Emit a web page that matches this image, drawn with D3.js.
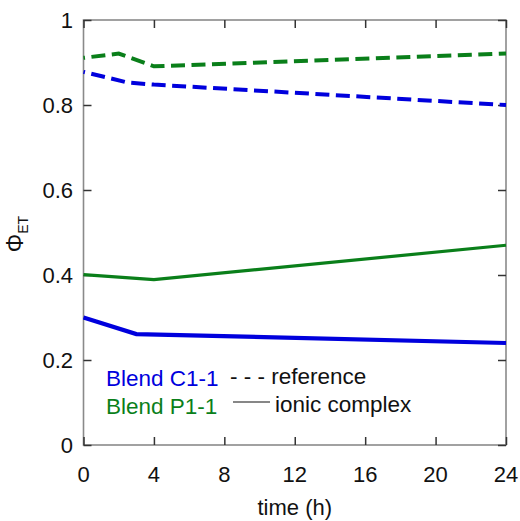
<!DOCTYPE html>
<html>
<head>
<meta charset="utf-8">
<script src="https://cdn.jsdelivr.net/npm/d3@7"></script>
<style>
  html, body { margin: 0; padding: 0; background: #fff; }
  svg { display: block; }
  text { font-family: "Liberation Sans", Arial, sans-serif; }
</style>
</head>
<body>
<svg id="chart" width="520" height="521"></svg>
<script>
// Electron-transfer efficiency over time for two blends
const xTicks = [0, 4, 8, 12, 16, 20, 24];
const yTicks = [0, 0.2, 0.4, 0.6, 0.8, 1];
const yTickLabels = ["0", "0.2", "0.4", "0.6", "0.8", "1"];

// reference (dashed) series
const c1RefTime = [0, 2.5, 4, 24];
const c1RefPhi  = [0.878, 0.853, 0.848, 0.800];
const p1RefTime = [0, 2, 4, 24];
const p1RefPhi  = [0.911, 0.921, 0.891, 0.921];

// ionic complex (solid) series
const c1IonTime = [0, 3, 24];
const c1IonPhi  = [0.300, 0.261, 0.240];
const p1IonTime = [0, 4, 24];
const p1IonPhi  = [0.401, 0.389, 0.470];

const blue = "#0000dd";
const green = "#0a7f1a";

const svg = d3.select("#chart");
const plotLeft = 83.5, plotRight = 506, plotTop = 20, plotBottom = 445;

const x = d3.scaleLinear().domain([0, 24]).range([plotLeft, plotRight]);
const y = d3.scaleLinear().domain([0, 1]).range([plotBottom, plotTop]);

const zip = (ts, vs) => ts.map((t, i) => [t, vs[i]]);
const line = d3.line().x(d => x(d[0])).y(d => y(d[1]));

// frame
svg.append("rect")
  .attr("x", plotLeft).attr("y", plotTop)
  .attr("width", plotRight - plotLeft).attr("height", plotBottom - plotTop)
  .attr("fill", "none").attr("stroke", "#8a8a8a").attr("stroke-width", 1.6);

// inward ticks on all four sides
const tickLen = 8;
const tickStyle = sel => sel.call(g => g.select(".domain").remove())
  .call(g => g.selectAll(".tick line").attr("stroke", "#333").attr("stroke-width", 1.5))
  .call(g => g.selectAll(".tick text").remove());

svg.append("g").attr("transform", `translate(0,${plotBottom})`)
  .call(d3.axisBottom(x).tickValues(xTicks).tickSize(-tickLen)).call(tickStyle);
svg.append("g").attr("transform", `translate(0,${plotTop})`)
  .call(d3.axisTop(x).tickValues(xTicks).tickSize(-tickLen)).call(tickStyle);
svg.append("g").attr("transform", `translate(${plotLeft},0)`)
  .call(d3.axisLeft(y).tickValues(yTicks).tickSize(-tickLen)).call(tickStyle);
svg.append("g").attr("transform", `translate(${plotRight},0)`)
  .call(d3.axisRight(y).tickValues(yTicks).tickSize(-tickLen)).call(tickStyle);

// tick labels
svg.append("g").selectAll("text").data(xTicks).join("text")
  .attr("x", d => x(d)).attr("y", 482)
  .attr("text-anchor", "middle").attr("font-size", 22).attr("fill", "#111")
  .text(d => d);
svg.append("g").selectAll("text").data(yTicks).join("text")
  .attr("x", 73).attr("y", d => y(d)).attr("dy", "0.36em")
  .attr("text-anchor", "end").attr("font-size", 22).attr("fill", "#111")
  .text((d, i) => yTickLabels[i]);

// axis titles
svg.append("text")
  .attr("x", x(12)).attr("y", 515)
  .attr("text-anchor", "middle").attr("font-size", 22).attr("fill", "#111")
  .text("time (h)");

const yTitle = svg.append("text")
  .attr("transform", "translate(23,234) rotate(-90)")
  .attr("text-anchor", "middle").attr("fill", "#111");
yTitle.append("tspan").attr("font-size", 23).text("Φ");
yTitle.append("tspan").attr("font-size", 14).attr("dy", 5).text("ET");

// data lines
const series = [
  { pts: zip(p1RefTime, p1RefPhi), color: green, width: 4, dash: "14,6.5" },
  { pts: zip(c1RefTime, c1RefPhi), color: blue,  width: 4, dash: "14,6.5" },
  { pts: zip(p1IonTime, p1IonPhi), color: green, width: 3.2, dash: null },
  { pts: zip(c1IonTime, c1IonPhi), color: blue,  width: 4.2, dash: null }
];
svg.append("g").selectAll("path").data(series).join("path")
  .attr("d", d => line(d.pts))
  .attr("fill", "none")
  .attr("stroke", d => d.color)
  .attr("stroke-width", d => d.width)
  .attr("stroke-dasharray", d => d.dash)
  .attr("stroke-dashoffset", d => d.dash ? -8 : null);

// legend
const leg = svg.append("g");
leg.append("text").attr("x", 106).attr("y", 386).attr("font-size", 22.5)
  .attr("fill", blue).text("Blend C1-1");
leg.append("text").attr("x", 106).attr("y", 414).attr("font-size", 22.5)
  .attr("fill", green).text("Blend P1-1");
leg.append("text").attr("x", 230).attr("y", 384).attr("font-size", 22.5)
  .attr("fill", "#111").text("- - - reference");
leg.append("line").attr("x1", 233).attr("x2", 270).attr("y1", 402).attr("y2", 402)
  .attr("stroke", "#111").attr("stroke-width", 1.2);
leg.append("text").attr("x", 275).attr("y", 412).attr("font-size", 22.5)
  .attr("fill", "#111").text("ionic complex");
</script>
</body>
</html>
